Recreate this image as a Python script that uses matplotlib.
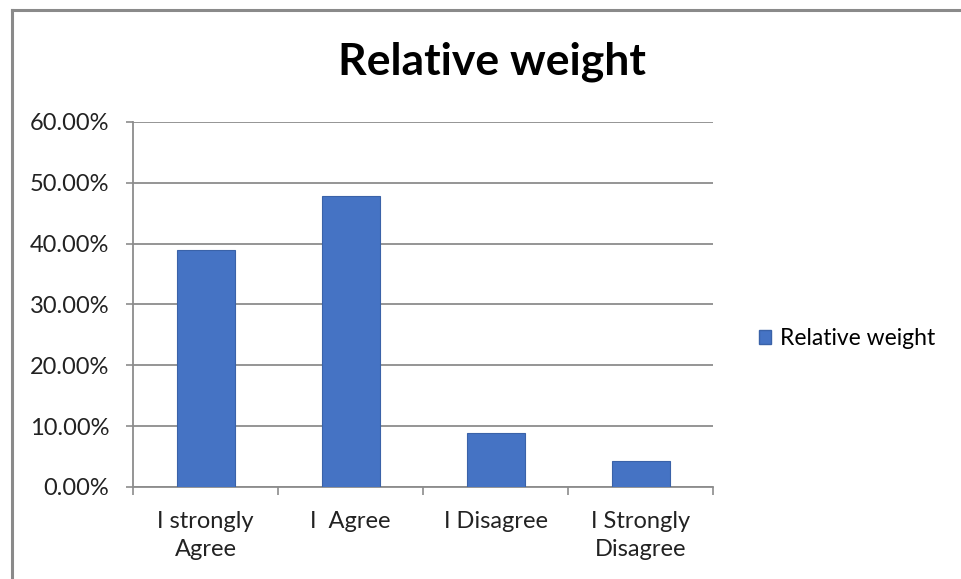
import matplotlib.pyplot as plt
from matplotlib.lines import Line2D
from matplotlib.patches import Patch
from matplotlib.ticker import FuncFormatter, FixedLocator

plt.rcParams['font.family'] = ['Lato', 'DejaVu Sans']

# Survey responses and their relative weight (%)
categories = ['I strongly\nAgree', 'I  Agree', 'I Disagree', 'I Strongly\nDisagree']
weights = [39.0, 47.9, 8.8, 4.3]
series_name = 'Relative weight'
y_ticks = [0, 10, 20, 30, 40, 50, 60]

bar_color = '#4573C4'
grid_color = '#8c8c8c'

fig = plt.figure(figsize=(9.61, 5.79), dpi=100)
ax = fig.add_axes([0.1384, 0.1589, 0.742 - 0.1384, 0.7893 - 0.1589])

x = list(range(len(categories)))
ax.bar(x, weights, width=0.4, color=bar_color, edgecolor='#3a62a8', linewidth=0.8,
       label=series_name, zorder=3)

ax.set_xlim(-0.5, len(categories) - 0.5)
ax.set_ylim(0, 60)
ax.set_yticks(y_ticks)
ax.yaxis.set_major_formatter(FuncFormatter(lambda v, p: f'{v:.2f}%'))
ax.yaxis.grid(True, color=grid_color, linewidth=1.3)
ax.set_axisbelow(True)

# category labels centred, tick marks on the boundaries
ax.set_xticks(x)
ax.set_xticklabels(categories, fontsize=17, color='#222222', linespacing=1.45)
ax.tick_params(axis='x', length=0, pad=17)
ax.xaxis.set_minor_locator(FixedLocator([i - 0.5 for i in range(len(categories) + 1)]))
ax.tick_params(axis='x', which='minor', length=6, color=grid_color, width=1.2)
ax.tick_params(axis='y', labelsize=17, labelcolor='#222222', length=5,
               color=grid_color, width=1.2, pad=12)

for side in ['top', 'right']:
    ax.spines[side].set_visible(False)
for side in ['left', 'bottom']:
    ax.spines[side].set_color(grid_color)
    ax.spines[side].set_linewidth(1.3)

fig.text(0.512, 0.893, 'Relative weight', ha='center', va='center',
         fontsize=32, fontweight='bold', color='black')

handles = [Patch(facecolor=bar_color, edgecolor='#3a62a8', label=series_name)]
fig.legend(handles=handles, loc='center left', bbox_to_anchor=(0.768, 0.415),
           frameon=False, fontsize=16.5, handlelength=0.55, handleheight=0.55,
           handletextpad=0.4)

# outer chart frame (left and top edges)
fig.add_artist(Line2D([0.0125, 0.0125], [0, 0.983], color='#8a8a8a', linewidth=2.2))
fig.add_artist(Line2D([0.0125, 1.0], [0.983, 0.983], color='#8a8a8a', linewidth=2.2))

fig.savefig('out.png', dpi=100, facecolor='white')
